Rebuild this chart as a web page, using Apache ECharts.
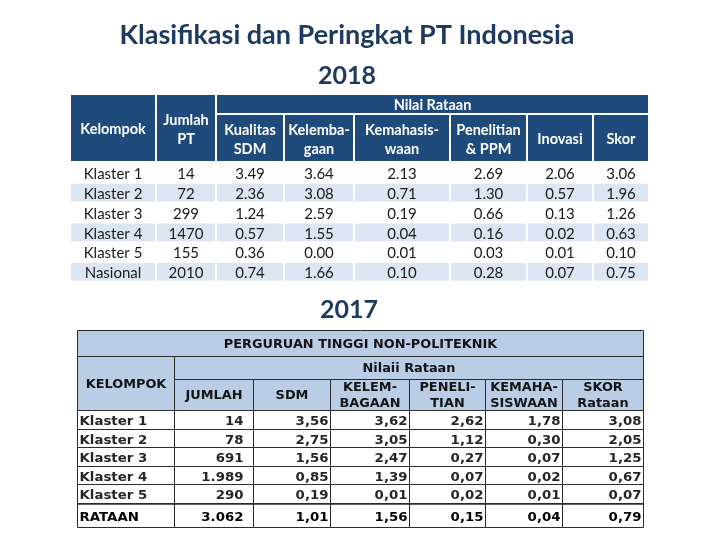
<!DOCTYPE html>
<html><head><meta charset="utf-8">
<script src="https://cdn.jsdelivr.net/npm/echarts@6/dist/echarts.min.js"></script>
<style>html,body{margin:0;padding:0;background:#fff}#chart{width:720px;height:540px}</style>
</head><body><div id="chart"></div>
<script>
// ---------- texts ----------
const titleText = 'Klasifikasi dan Peringkat PT Indonesia';
const year2018 = '2018';
const year2017 = '2017';

// ---------- 2018 table data ----------
const header2018 = ['Kelompok', 'Jumlah\nPT', 'Kualitas\nSDM', 'Kelemba-\ngaan', 'Kemahasis-\nwaan', 'Penelitian\n& PPM', 'Inovasi', 'Skor'];
const groupLabel2018 = 'Nilai Rataan';
const groups2018 = ['Klaster 1', 'Klaster 2', 'Klaster 3', 'Klaster 4', 'Klaster 5', 'Nasional'];
const jumlah2018 = [14, 72, 299, 1470, 155, 2010];
const sdm2018 = [3.49, 2.36, 1.24, 0.57, 0.36, 0.74];
const kelembagaan2018 = [3.64, 3.08, 2.59, 1.55, 0.00, 1.66];
const kemahasiswaan2018 = [2.13, 0.71, 0.19, 0.04, 0.01, 0.10];
const penelitian2018 = [2.69, 1.30, 0.66, 0.16, 0.03, 0.28];
const inovasi2018 = [2.06, 0.57, 0.13, 0.02, 0.01, 0.07];
const skor2018 = [3.06, 1.96, 1.26, 0.63, 0.10, 0.75];

// ---------- 2017 table data ----------
const tableTitle2017 = 'PERGURUAN TINGGI NON-POLITEKNIK';
const groupLabel2017 = 'Nilaii Rataan';
const header2017 = ['KELOMPOK', 'JUMLAH', 'SDM', 'KELEM-\nBAGAAN', 'PENELI-\nTIAN', 'KEMAHA-\nSISWAAN', 'SKOR\nRataan'];
const groups2017 = ['Klaster 1', 'Klaster 2', 'Klaster 3', 'Klaster 4', 'Klaster 5', 'RATAAN'];
const jumlah2017 = [14, 78, 691, 1989, 290, 3062];
const sdm2017 = [3.56, 2.75, 1.56, 0.85, 0.19, 1.01];
const kelembagaan2017 = [3.62, 3.05, 2.47, 1.39, 0.01, 1.56];
const penelitian2017 = [2.62, 1.12, 0.27, 0.07, 0.02, 0.15];
const kemahasiswaan2017 = [1.78, 0.30, 0.07, 0.02, 0.01, 0.04];
const skor2017 = [3.08, 2.05, 1.25, 0.67, 0.07, 0.79];

// ---------- layout (axis units = px inside each grid) ----------
const L18 = { left: 71, top: 95, width: 577, height: 186.8,
  cols: [0, 86, 146, 214, 284, 380, 457, 523, 577],
  rows: [0, 20, 68, 87.8, 107.6, 127.4, 147.2, 167, 186.8] };
const L17 = { left: 77.5, top: 330.5, width: 566, height: 197,
  cols: [0, 97, 176, 253, 332, 408, 485, 566],
  rows: [0, 26, 49, 80, 99, 117, 136, 154, 173, 197] };

const NAVY = '#1f3a60';
const HEAD18 = '#1f4a7c';
const BAND18 = '#dce6f2';
const HEAD17 = '#b9cde5';
const LINE17 = '#2b2b2b';
const F18 = 'Lato';
const F17 = 'DejaVu Sans';

const fmt2 = v => v.toFixed(2);
const fmt2id = v => v.toFixed(2).replace('.', ',');
const fmtIntId = v => String(v).replace(/\B(?=(\d{3})+(?!\d))/g, '.');

// ---------- build cells 2018 ----------
const cells18 = [];
function add18(c0, r0, c1, r1, text, kind) {
  cells18.push({ value: [L18.cols[c0], L18.rows[r0], L18.cols[c1], L18.rows[r1]], text, kind, lastCol: c1 === L18.cols.length - 1 });
}
add18(0, 0, 1, 2, header2018[0], 'head');
add18(1, 0, 2, 2, header2018[1], 'head');
add18(2, 0, 8, 1, groupLabel2018, 'head');
for (let c = 2; c < 8; c++) add18(c, 1, c + 1, 2, header2018[c], 'head');
const cols18 = [jumlah2018.map(String), sdm2018.map(fmt2), kelembagaan2018.map(fmt2), kemahasiswaan2018.map(fmt2), penelitian2018.map(fmt2), inovasi2018.map(fmt2), skor2018.map(fmt2)];
groups2018.forEach((g, i) => {
  const kind = i % 2 === 1 ? 'band' : 'plain';
  add18(0, 2 + i, 1, 3 + i, g, kind);
  cols18.forEach((col, j) => add18(j + 1, 2 + i, j + 2, 3 + i, col[i], kind));
});

// ---------- build cells 2017 ----------
const cells17 = [];
function add17(c0, r0, c1, r1, text, kind, align, pad) {
  cells17.push({ value: [L17.cols[c0], L17.rows[r0], L17.cols[c1], L17.rows[r1]], text, kind, align: align || 'center', pad: pad || 0 });
}
add17(0, 0, 7, 1, tableTitle2017, 'head');
add17(0, 1, 1, 3, header2017[0], 'head');
add17(1, 1, 7, 2, groupLabel2017, 'head');
for (let c = 1; c < 7; c++) add17(c, 2, c + 1, 3, header2017[c], 'head');
const cols17 = [jumlah2017.map(fmtIntId), sdm2017.map(fmt2id), kelembagaan2017.map(fmt2id), penelitian2017.map(fmt2id), kemahasiswaan2017.map(fmt2id), skor2017.map(fmt2id)];
groups2017.forEach((g, i) => {
  const kind = i === groups2017.length - 1 ? 'total' : 'plain';
  add17(0, 3 + i, 1, 4 + i, g, kind, 'left', 2);
  cols17.forEach((col, j) => add17(j + 1, 3 + i, j + 2, 4 + i, col[i], kind, 'right', j === 0 ? 10 : 2));
});

function render18(params, api) {
  const cell = cells18[params.dataIndex];
  const p0 = api.coord([api.value(0), api.value(1)]);
  const p1 = api.coord([api.value(2), api.value(3)]);
  let x = p0[0], y = p0[1], w = p1[0] - p0[0], h = p1[1] - p0[1];
  if (!cell.lastCol) w -= 2;
  if (cell.kind === 'head') { h -= 2; } else { y += 1; h -= 2; }
  const head = cell.kind === 'head';
  const fill = head ? HEAD18 : (cell.kind === 'band' ? BAND18 : '#ffffff');
  return { type: 'group', children: [
    { type: 'rect', shape: { x, y, width: w, height: h }, style: { fill } },
    { type: 'text', style: { text: cell.text, x: x + w / 2, y: y + h / 2 + 1.5, align: 'center', verticalAlign: 'middle',
      fill: head ? '#ffffff' : '#1a1a1a', fontFamily: F18, fontSize: head ? 14.5 : 15, fontWeight: head ? 'bold' : 'normal', lineHeight: 19 } }
  ] };
}

function render17(params, api) {
  const cell = cells17[params.dataIndex];
  const p0 = api.coord([api.value(0), api.value(1)]);
  const p1 = api.coord([api.value(2), api.value(3)]);
  const x = p0[0], y = p0[1], w = p1[0] - p0[0], h = p1[1] - p0[1];
  const head = cell.kind === 'head';
  const total = cell.kind === 'total';
  let tx = x + w / 2;
  if (cell.align === 'left') tx = x + cell.pad;
  if (cell.align === 'right') tx = x + w - cell.pad;
  const children = [
    { type: 'rect', shape: { x, y, width: w, height: h }, style: { fill: head ? HEAD17 : '#ffffff', stroke: LINE17, lineWidth: 1 } },
    { type: 'text', x: tx, y: y + h / 2 + (head ? 1.5 : 2), scaleX: head ? 1.12 : 1.13, scaleY: 1,
      style: { text: cell.text, x: 0, y: 0, align: cell.align, verticalAlign: 'middle',
      fill: total ? '#000000' : (head ? '#141414' : '#262626'), fontFamily: F17, fontSize: head ? 11.5 : 11.8, fontWeight: 'bold', lineHeight: 16 } }
  ];
  if (total) {
    children.push({ type: 'line', shape: { x1: x, y1: y + 0.5, x2: x + w, y2: y + 0.5 }, style: { stroke: LINE17, lineWidth: 1.5 } });
  }
  return { type: 'group', children };
}

const option = {
  animation: false,
  backgroundColor: '#ffffff',
  graphic: [
    { type: 'text', x: 347, y: 35, style: { text: titleText, align: 'center', verticalAlign: 'middle', fill: NAVY, fontFamily: 'Lato', fontWeight: 'bold', fontSize: 27 } },
    { type: 'text', x: 347, y: 76, style: { text: year2018, align: 'center', verticalAlign: 'middle', fill: NAVY, fontFamily: 'Lato', fontWeight: 'bold', fontSize: 25 } },
    { type: 'text', x: 349, y: 310, style: { text: year2017, align: 'center', verticalAlign: 'middle', fill: NAVY, fontFamily: 'Lato', fontWeight: 'bold', fontSize: 25 } }
  ],
  grid: [
    { left: L18.left, top: L18.top, width: L18.width, height: L18.height },
    { left: L17.left, top: L17.top, width: L17.width, height: L17.height }
  ],
  xAxis: [
    { type: 'value', gridIndex: 0, min: 0, max: L18.width, show: false },
    { type: 'value', gridIndex: 1, min: 0, max: L17.width, show: false }
  ],
  yAxis: [
    { type: 'value', gridIndex: 0, min: 0, max: L18.height, inverse: true, show: false },
    { type: 'value', gridIndex: 1, min: 0, max: L17.height, inverse: true, show: false }
  ],
  series: [
    { type: 'custom', coordinateSystem: 'cartesian2d', xAxisIndex: 0, yAxisIndex: 0, clip: false, silent: true,
      encode: { x: [0, 2], y: [1, 3] }, data: cells18.map(c => c.value), renderItem: render18 },
    { type: 'custom', coordinateSystem: 'cartesian2d', xAxisIndex: 1, yAxisIndex: 1, clip: false, silent: true,
      encode: { x: [0, 2], y: [1, 3] }, data: cells17.map(c => c.value), renderItem: render17 }
  ]
};
const chart = echarts.init(document.getElementById('chart'), null, { renderer: 'canvas' });
chart.setOption(option);
</script>
</body></html>
